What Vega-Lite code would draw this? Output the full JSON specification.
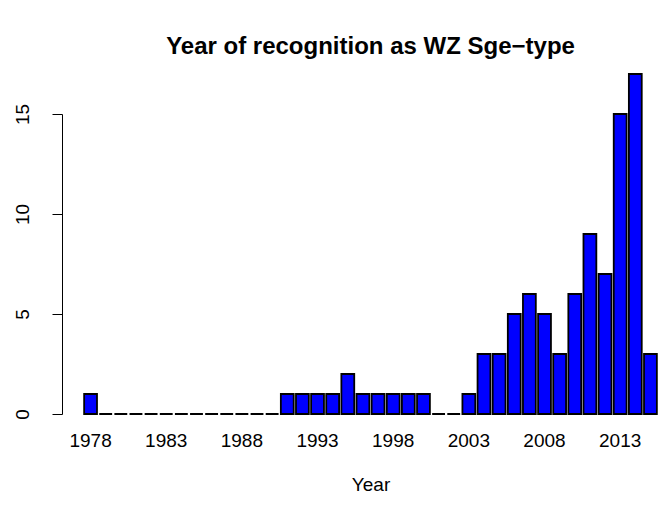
{
  "$schema": "https://vega.github.io/schema/vega-lite/v6.json",
  "autosize": "none",
  "width": 575,
  "height": 300,
  "padding": {"left": 83, "top": 114, "right": 1, "bottom": 105},
  "background": "white",
  "title": {
    "text": "Year of recognition as WZ Sge−type",
    "font": "Liberation Sans",
    "fontSize": 24,
    "fontWeight": "bold",
    "color": "black",
    "anchor": "middle",
    "offset": 14
  },
  "config": {"view": {"stroke": null}},
  "data": {
    "values": [
      {"Year": 1978, "Count": 1}, {"Year": 1979, "Count": 0}, {"Year": 1980, "Count": 0},
      {"Year": 1981, "Count": 0}, {"Year": 1982, "Count": 0}, {"Year": 1983, "Count": 0},
      {"Year": 1984, "Count": 0}, {"Year": 1985, "Count": 0}, {"Year": 1986, "Count": 0},
      {"Year": 1987, "Count": 0}, {"Year": 1988, "Count": 0}, {"Year": 1989, "Count": 0},
      {"Year": 1990, "Count": 0}, {"Year": 1991, "Count": 1}, {"Year": 1992, "Count": 1},
      {"Year": 1993, "Count": 1}, {"Year": 1994, "Count": 1}, {"Year": 1995, "Count": 2},
      {"Year": 1996, "Count": 1}, {"Year": 1997, "Count": 1}, {"Year": 1998, "Count": 1},
      {"Year": 1999, "Count": 1}, {"Year": 2000, "Count": 1}, {"Year": 2001, "Count": 0},
      {"Year": 2002, "Count": 0}, {"Year": 2003, "Count": 1}, {"Year": 2004, "Count": 3},
      {"Year": 2005, "Count": 3}, {"Year": 2006, "Count": 5}, {"Year": 2007, "Count": 6},
      {"Year": 2008, "Count": 5}, {"Year": 2009, "Count": 3}, {"Year": 2010, "Count": 6},
      {"Year": 2011, "Count": 9}, {"Year": 2012, "Count": 7}, {"Year": 2013, "Count": 15},
      {"Year": 2014, "Count": 17}, {"Year": 2015, "Count": 3}
    ]
  },
  "mark": {"type": "bar", "color": "#0000FF", "stroke": "black", "strokeWidth": 1.8, "clip": false},
  "encoding": {
    "x": {
      "field": "Year",
      "type": "ordinal",
      "scale": {"paddingInner": 0.15, "paddingOuter": 0.075},
      "axis": {
        "values": [1978, 1983, 1988, 1993, 1998, 2003, 2008, 2013],
        "labelAngle": 0,
        "domain": false,
        "ticks": false,
        "labelPadding": 17,
        "labelFont": "Liberation Sans",
        "labelFontSize": 19,
        "labelColor": "black",
        "labelBaseline": "top",
        "title": "Year",
        "titleFont": "Liberation Sans",
        "titleFontSize": 19,
        "titleFontWeight": "normal",
        "titleColor": "black",
        "titlePadding": 25
      }
    },
    "y": {
      "field": "Count",
      "type": "quantitative",
      "scale": {"domain": [0, 15], "nice": false, "zero": true},
      "axis": {
        "values": [0, 5, 10, 15],
        "offset": 21,
        "grid": false,
        "domainColor": "black",
        "domainWidth": 1,
        "tickColor": "black",
        "tickSize": 10,
        "tickWidth": 1,
        "labelAngle": 270,
        "labelAlign": "center",
        "labelBaseline": "bottom",
        "labelPadding": 20,
        "labelFont": "Liberation Sans",
        "labelFontSize": 19,
        "labelColor": "black",
        "title": null
      }
    }
  }
}
